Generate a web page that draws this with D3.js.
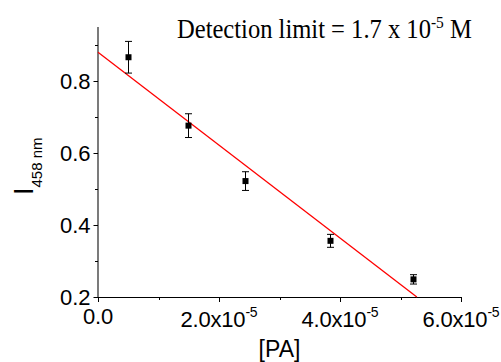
<!DOCTYPE html>
<html>
<head>
<meta charset="utf-8">
<script src="https://cdn.jsdelivr.net/npm/d3@7"></script>
<style>
  body { margin: 0; background: #fff; }
  svg { display: block; }
</style>
</head>
<body>
<div id="container"></div>
<script>
/* CONSTANTS AND GLOBALS */
const width = 501,
  height = 362,
  margin = { left: 98, right: 40, top: 27, bottom: 65 };

// data
const concentration = [0.49e-5, 1.48e-5, 2.43e-5, 3.84e-5, 5.2e-5];
const intensity = [0.866, 0.676, 0.522, 0.356, 0.249];
const errors = [0.044, 0.033, 0.026, 0.018, 0.013];
// linear fit end points
const fitX = [0, 5.27e-5];
const fitY = [0.88, 0.2];
// ticks
const xTicks = [0, 2e-5, 4e-5, 6e-5];
const xTickLabels = ["0.0", "2.0x10", "4.0x10", "6.0x10"];
const xTickExp = ["", "-5", "-5", "-5"];
const xMinor = [1e-5, 3e-5, 5e-5];
const yTicks = [0.2, 0.4, 0.6, 0.8];
const yMinor = [0.3, 0.5, 0.7, 0.9];

const svg = d3.select("#container")
  .append("svg")
  .attr("width", width)
  .attr("height", height);

/* SCALES */
const xScale = d3.scaleLinear()
  .domain([0, 6e-5])
  .range([margin.left, width - margin.right]);

const yScale = d3.scaleLinear()
  .domain([0.2, 0.95])
  .range([height - margin.bottom, margin.top]);

const x0 = xScale(0), y0 = yScale(0.2);

/* AXES */
// y axis line (soft grey like the original)
svg.append("line")
  .attr("x1", x0).attr("x2", x0)
  .attr("y1", yScale(0.95)).attr("y2", y0)
  .attr("stroke", "#333").attr("stroke-width", 1.3);

svg.selectAll(".ytick")
  .data(yTicks)
  .join("line")
  .attr("class", "ytick")
  .attr("x1", x0 - 4.5).attr("x2", x0)
  .attr("y1", d => Math.round(yScale(d)) + 0.5)
  .attr("y2", d => Math.round(yScale(d)) + 0.5)
  .attr("stroke", "#000");

svg.selectAll(".yminor")
  .data(yMinor)
  .join("line")
  .attr("class", "yminor")
  .attr("x1", x0 - 3).attr("x2", x0)
  .attr("y1", d => Math.round(yScale(d)) + 0.5)
  .attr("y2", d => Math.round(yScale(d)) + 0.5)
  .attr("stroke", "#000");

svg.selectAll(".ylabel")
  .data(yTicks)
  .join("text")
  .attr("class", "ylabel")
  .attr("x", x0 - 7.5)
  .attr("y", d => yScale(d) + 7.8)
  .attr("text-anchor", "end")
  .style("font-family", "Liberation Sans, Arial, sans-serif")
  .style("font-size", "22px")
  .text(d => d.toFixed(1));

// x axis
svg.append("line")
  .attr("x1", x0 - 1).attr("x2", xScale(6e-5))
  .attr("y1", Math.round(y0) + 0.5).attr("y2", Math.round(y0) + 0.5)
  .attr("stroke", "#000").attr("stroke-width", 1.2);

svg.selectAll(".xtick")
  .data(xTicks)
  .join("line")
  .attr("class", "xtick")
  .attr("x1", d => Math.round(xScale(d)) + 0.5)
  .attr("x2", d => Math.round(xScale(d)) + 0.5)
  .attr("y1", y0).attr("y2", y0 + 5)
  .attr("stroke", "#000");

svg.selectAll(".xminor")
  .data(xMinor)
  .join("line")
  .attr("class", "xminor")
  .attr("x1", d => Math.round(xScale(d)) + 0.5)
  .attr("x2", d => Math.round(xScale(d)) + 0.5)
  .attr("y1", y0).attr("y2", y0 + 3)
  .attr("stroke", "#000");

const xl = svg.selectAll(".xlabel")
  .data(xTicks)
  .join("text")
  .attr("class", "xlabel")
  .attr("x", d => xScale(d))
  .attr("y", (d, i) => xTickExp[i] ? y0 + 29.5 : y0 + 26.5)
  .attr("text-anchor", "middle")
  .style("font-family", "Liberation Sans, Arial, sans-serif")
  .style("font-size", "22px")
  .style("letter-spacing", "-0.2px");
xl.append("tspan").text((d, i) => xTickLabels[i]);
xl.append("tspan")
  .attr("dy", -10)
  .style("font-size", "14px")
  .text((d, i) => xTickExp[i]);

// axis titles
svg.append("text")
  .attr("x", (x0 + xScale(6e-5)) / 2)
  .attr("y", 357)
  .attr("text-anchor", "middle")
  .style("font-family", "Liberation Sans, Arial, sans-serif")
  .style("font-size", "23px")
  .text("[PA]");

const yt = svg.append("text")
  .attr("transform", "translate(32.5,195) rotate(-90)")
  .style("font-family", "Liberation Sans, Arial, sans-serif");
yt.append("tspan").style("font-size", "27px").text("I");
yt.append("tspan").attr("dy", 9).style("font-size", "15px").text("458 nm");

/* FIT LINE */
svg.append("path")
  .datum(fitX.map((x, i) => [x, fitY[i]]))
  .attr("d", d3.line().x(d => xScale(d[0])).y(d => yScale(d[1])))
  .attr("fill", "none")
  .attr("stroke", "#ff0000")
  .attr("stroke-width", 1.3);

/* POINTS WITH ERROR BARS */
const pts = concentration.map((c, i) => ({ c, v: intensity[i], e: errors[i] }));

svg.selectAll(".err")
  .data(pts)
  .join("path")
  .attr("class", "err")
  .attr("d", d => {
    const x = Math.round(xScale(d.c)) + 0.5,
      yt = yScale(d.v + d.e), yb = yScale(d.v - d.e);
    return `M${x - 3.5},${yt}H${x + 3.5}M${x},${yt}V${yb}M${x - 3.5},${yb}H${x + 3.5}`;
  })
  .attr("fill", "none")
  .attr("stroke", "#000")
  .attr("stroke-width", 1);

svg.selectAll(".pt")
  .data(pts)
  .join("rect")
  .attr("class", "pt")
  .attr("x", d => Math.round(xScale(d.c)) + 0.5 - 3)
  .attr("y", d => yScale(d.v) - 3)
  .attr("width", 6)
  .attr("height", 6)
  .attr("fill", "#000");

/* ANNOTATION */
const ann = svg.append("text")
  .attr("x", 0).attr("y", 0)
  .style("font-family", "Liberation Serif, Times New Roman, serif")
  .style("font-size", "27px");
ann.append("tspan").text("Detection limit = 1.7 x 10");
ann.append("tspan").attr("dy", -10).style("font-size", "17px").text("-5");
ann.append("tspan").attr("dy", 10).text(" M");
const annW = ann.node().getComputedTextLength();
ann.attr("transform", `translate(177,37.5) scale(${295 / annW},1)`);
</script>
</body>
</html>
